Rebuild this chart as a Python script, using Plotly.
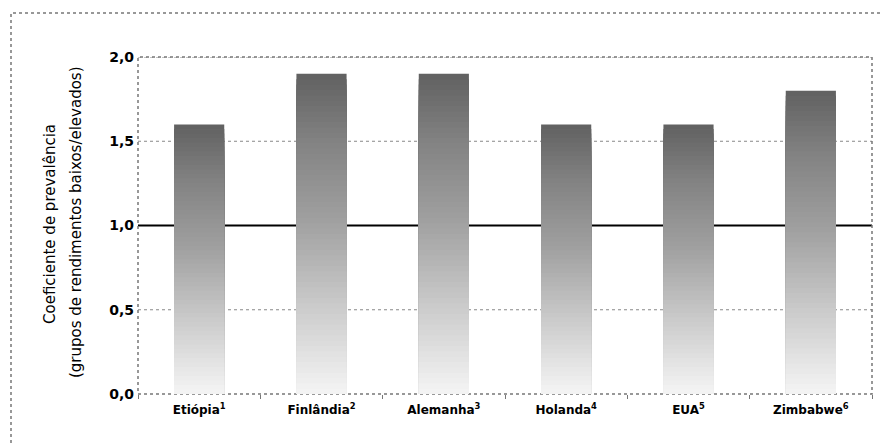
import plotly.graph_objects as go

categories = ["Etiópia<sup>1</sup>", "Finlândia<sup>2</sup>", "Alemanha<sup>3</sup>",
              "Holanda<sup>4</sup>", "EUA<sup>5</sup>", "Zimbabwe<sup>6</sup>"]
values = [1.6, 1.9, 1.9, 1.6, 1.6, 1.8]
y_ticks = [0.0, 0.5, 1.0, 1.5, 2.0]
grid_levels = [0.5, 1.5, 2.0]
reference_level = 1.0
title_lines = ["Coeficiente de prevalência", "(grupos de rendimentos baixos/elevados)"]

OFF = 8  # page body margin
W, H = 891 - OFF, 446 - OFF
L, R, T, B = 138 - OFF, 19, 57 - OFF, 52
pw, ph = W - L - R, H - T - B

def px_x(x):  # absolute page pixel -> paper x
    return (x - OFF - L) / pw

def px_y(y):  # absolute page pixel -> paper y
    return (H - B - (y - OFF)) / ph

def lerp(c1, c2, t):
    return tuple(round(a + (b - a) * t) for a, b in zip(c1, c2))

stops = [(0.0, (246, 246, 246)), (0.3, (200, 200, 200)), (0.55, (160, 160, 160)),
         (0.8, (130, 130, 130)), (1.0, (98, 98, 98))]

def grad(t):
    for (t0, c0), (t1, c1) in zip(stops[:-1], stops[1:]):
        if t <= t1:
            return "rgb(%d,%d,%d)" % lerp(c0, c1, (t - t0) / (t1 - t0))
    return "rgb(%d,%d,%d)" % stops[-1][1]

fig = go.Figure()
N = 60
for i in range(N):
    frac = 1 - i / N
    fig.add_trace(go.Bar(
        x=categories, y=[v * frac for v in values],
        width=0.41, marker=dict(color=grad(frac), line=dict(width=0)),
        showlegend=False, hoverinfo="skip"))

shapes = [dict(type="line", xref="paper", yref="y", x0=0, x1=1, y0=g, y1=g,
               line=dict(color="#888", width=1, dash="dot"), layer="below")
          for g in grid_levels]
shapes += [
    dict(type="line", xref="paper", yref="y", x0=0, x1=1,
         y0=reference_level, y1=reference_level,
         line=dict(color="black", width=2), layer="below"),
    dict(type="rect", xref="paper", yref="paper", x0=0, x1=1, y0=0, y1=1,
         line=dict(color="#777", width=1.5, dash="dot"), layer="below"),
    dict(type="rect", xref="paper", yref="paper",
         x0=px_x(11), x1=px_x(900), y0=px_y(460), y1=px_y(13),
         line=dict(color="#777", width=1.5, dash="dot"), layer="below"),
]

fig.update_layout(
    width=W, height=H, barmode="overlay",
    margin=dict(l=L, r=R, t=T, b=B, autoexpand=False),
    paper_bgcolor="white", plot_bgcolor="white",
    separators=",.",
    font=dict(family="DejaVu Sans", color="black"),
    xaxis=dict(showgrid=False, zeroline=False, showline=False,
               ticks="outside", tickson="boundaries", ticklen=4, tickcolor="#777",
               tickfont=dict(size=12, weight="bold"), ticklabelstandoff=7),
    yaxis=dict(range=[0, 2.0], tickvals=y_ticks, tickformat=".1f",
               showgrid=False, zeroline=False, showline=False, ticks="",
               ticklabelstandoff=3, tickfont=dict(size=14, weight="bold")),
    shapes=shapes,
    annotations=[
        dict(text=title_lines[0], xref="paper", yref="paper", x=px_x(50), y=px_y(224),
             textangle=-90, showarrow=False, xanchor="center", yanchor="middle",
             font=dict(size=15)),
        dict(text=title_lines[1], xref="paper", yref="paper", x=px_x(76), y=px_y(222),
             textangle=-90, showarrow=False, xanchor="center", yanchor="middle",
             font=dict(size=15)),
    ],
)

fig.write_html("out.html")
